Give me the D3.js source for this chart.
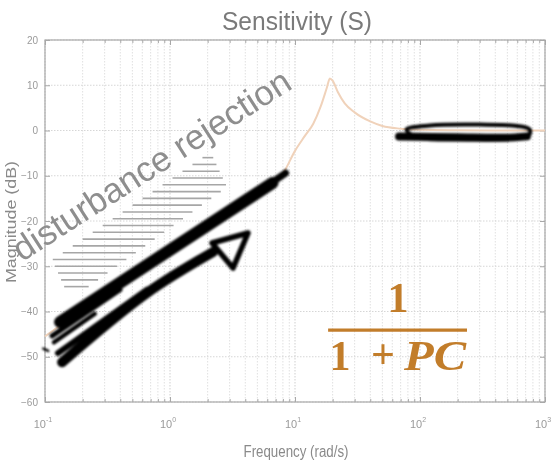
<!DOCTYPE html>
<html>
<head>
<meta charset="utf-8">
<script src="https://cdn.jsdelivr.net/npm/d3@7/dist/d3.min.js"></script>
<style>
  html, body { margin: 0; padding: 0; background: #fff; }
  svg { display: block; }
</style>
</head>
<body>
<svg id="chart" width="555" height="466"></svg>
<script>
// ---------------- data ----------------
const freq = [0.1, 0.2, 0.5, 1, 2, 4, 6, 8, 10, 12, 14, 16, 18, 19, 20, 22, 25, 30, 40, 50, 70, 100, 200, 500, 1000];
const magDb = [-45.5, -39.5, -32, -26, -20.5, -15, -12, -9.5, -4.5, -1.2, 1.5, 5.2, 9.5, 11.5, 11, 8.5, 6, 4, 2, 1, 0.4, 0.15, 0.05, 0, 0];
const xDecades = [0.1, 1, 10, 100, 1000];
const xExponents = ["-1", "0", "1", "2", "3"];
const yTicks = [20, 10, 0, -10, -20, -30, -40, -50, -60];

const titleText = "Sensitivity (S)";
const xLabelText = "Frequency (rad/s)";
const yLabelText = "Magnitude (dB)";
const noteText = "disturbance rejection";

// annotation anchors, in data coordinates [rad/s, dB]
const noteAnchor = [0.0655, -29.1];
const hatchPoly = [[1.84, -5.9], [2.21, -5.9], [2.86, -12.5], [0.19, -35.9], [0.15, -35.9], [0.114, -28.6]];
const hatchLevels = d3.range(-6, -36.1, -1.5);
const markerMain = [[0.132, -42.3], [6.6, -11.6]];
const markerTip = [[4.5, -14.6], [8.4, -9.4]];
const markerProng1 = [[0.114, -45.4], [0.398, -35.2]];
const markerProng2 = [[0.118, -46.8], [0.25, -40.5]];
const markerDot = [[0.097, -48.2], [0.106, -48.7]];
const arrowShaft = [[0.137, -51.2], [0.655, -35.9], [2.21, -26.85]];
const arrowShaft2 = [[0.127, -49.2], [0.655, -35.2]];
const arrowHead = [[2.17, -24.86], [4.21, -22.65], [3.19, -30.4]];
const scribbleLoop = [[90, -1.3], [78, 0.2], [120, 1.1], [300, 1.3], [600, 1.0], [755, 0.2], [740, -1.2], [500, -1.9], [250, -2.0], [110, -1.8]];
const scribbleBar = [[68, -1.3], [200, -1.5], [480, -1.6], [715, -1.3]];
const fracNum = "1";
const fracDen1 = "1";
const fracDenPlus = "+";
const fracDenVar = "PC";
const fracCenter = [66.7, -40.1];
const fracBar = [[18.4, -44.1], [237.7, -44.1]];
const fracDenBase = -52.9;

// ---------------- scales ----------------
const svg = d3.select("#chart");
const x = d3.scaleLog().domain([0.1, 1000]).range([45, 545]);
const y = d3.scaleLinear().domain([-60, 20]).range([402, 40]);
const P = d => [x(d[0]), y(d[1])];

const defs = svg.append("defs");
defs.append("filter").attr("id", "soft").attr("x", "-5%").attr("y", "-5%").attr("width", "110%").attr("height", "110%")
  .append("feGaussianBlur").attr("stdDeviation", 0.55);
defs.append("filter").attr("id", "soft2").attr("x", "-5%").attr("y", "-5%").attr("width", "110%").attr("height", "110%")
  .append("feGaussianBlur").attr("stdDeviation", 0.8);

const g = svg.append("g").attr("filter", "url(#soft)");

// ---------------- grid ----------------
const minorX = x.ticks();
g.append("g").selectAll("line").data(minorX).join("line")
  .attr("x1", d => x(d)).attr("x2", d => x(d))
  .attr("y1", y(20)).attr("y2", y(-60))
  .attr("stroke", d => xDecades.includes(d) ? "#cfcfcf" : "#e0e0e0")
  .attr("stroke-width", 1)
  .attr("stroke-dasharray", "1.5,1.5");
g.append("g").selectAll("line").data(yTicks).join("line")
  .attr("x1", x(0.1)).attr("x2", x(1000))
  .attr("y1", d => y(d)).attr("y2", d => y(d))
  .attr("stroke", "#d6d6d6")
  .attr("stroke-width", 1)
  .attr("stroke-dasharray", "1.5,1.5");

// ---------------- axes ----------------
function styleAxis(sel) {
  sel.select(".domain").remove();
  sel.selectAll(".tick line").attr("stroke", "#a8a8a8");
  sel.selectAll("text").attr("fill", "#9a9a9a").attr("font-family", "Liberation Sans, Arial, sans-serif");
}
g.append("g").attr("transform", `translate(0,${y(-60)})`)
  .call(d3.axisBottom(x).tickValues(minorX).tickSize(-3).tickFormat(""))
  .call(styleAxis);
g.append("g").attr("transform", `translate(0,${y(-60)})`)
  .call(d3.axisBottom(x).tickValues(xDecades).tickSize(-5).tickFormat(""))
  .call(styleAxis);
g.append("g").attr("transform", `translate(0,${y(20)})`)
  .call(d3.axisTop(x).tickValues(minorX).tickSize(-3).tickFormat(""))
  .call(styleAxis);
g.append("g").attr("transform", `translate(0,${y(20)})`)
  .call(d3.axisTop(x).tickValues(xDecades).tickSize(-5).tickFormat(""))
  .call(styleAxis);
g.append("g").attr("transform", `translate(${x(0.1)},0)`)
  .call(d3.axisLeft(y).tickValues(yTicks).tickSize(-5).tickPadding(7).tickFormat(d3.format("d")))
  .call(styleAxis)
  .call(s => s.selectAll("text").attr("font-size", 10));
g.append("g").attr("transform", `translate(${x(1000)},0)`)
  .call(d3.axisRight(y).tickValues(yTicks).tickSize(-5).tickFormat(""))
  .call(styleAxis);

g.append("rect")
  .attr("x", x(0.1)).attr("y", y(20))
  .attr("width", x(1000) - x(0.1)).attr("height", y(-60) - y(20))
  .attr("fill", "none").attr("stroke", "#a8a8a8").attr("stroke-width", 1.2);

// x tick labels 10^n
const xl = g.append("g").selectAll("text").data(xDecades).join("text")
  .attr("x", d => x(d) - 2).attr("y", y(-60) + 26)
  .attr("text-anchor", "middle")
  .attr("font-family", "Liberation Sans, Arial, sans-serif")
  .attr("font-size", 11).attr("fill", "#9a9a9a");
xl.append("tspan").text("10");
xl.append("tspan").attr("dy", -6).attr("font-size", 7).text((d, i) => xExponents[i]);

// ---------------- titles ----------------
g.append("text").attr("x", 297).attr("y", 30)
  .attr("text-anchor", "middle")
  .attr("font-family", "Liberation Sans, Arial, sans-serif")
  .attr("font-size", 25).attr("fill", "#7a7a7a")
  .attr("textLength", 150).attr("lengthAdjust", "spacingAndGlyphs")
  .text(titleText);
g.append("text").attr("x", 296).attr("y", 457)
  .attr("text-anchor", "middle")
  .attr("font-family", "Liberation Sans, Arial, sans-serif")
  .attr("font-size", 16).attr("fill", "#8a8a8a")
  .attr("textLength", 105).attr("lengthAdjust", "spacingAndGlyphs")
  .text(xLabelText);
g.append("text")
  .attr("transform", `translate(16,222) rotate(-90)`)
  .attr("text-anchor", "middle")
  .attr("font-family", "Liberation Sans, Arial, sans-serif")
  .attr("font-size", 15).attr("fill", "#8a8a8a")
  .attr("textLength", 122).attr("lengthAdjust", "spacingAndGlyphs")
  .text(yLabelText);

// ---------------- sensitivity curve ----------------
const line = d3.line().x(d => x(d[0])).y(d => y(d[1])).curve(d3.curveMonotoneX);
g.append("path")
  .datum(freq.map((f, i) => [f, magDb[i]]))
  .attr("d", line)
  .attr("fill", "none")
  .attr("stroke", "#f0d2ba")
  .attr("stroke-width", 2);

// ---------------- hatch lines ----------------
const polyPx = hatchPoly.map(P);
function scan(yy) {
  const xs = [];
  for (let i = 0; i < polyPx.length; i++) {
    const a = polyPx[i], b = polyPx[(i + 1) % polyPx.length];
    if ((yy - a[1]) * (yy - b[1]) <= 0 && a[1] !== b[1]) {
      xs.push(a[0] + (yy - a[1]) / (b[1] - a[1]) * (b[0] - a[0]));
    }
  }
  return xs.length ? [d3.min(xs), d3.max(xs)] : null;
}
g.append("g").selectAll("line")
  .data(hatchLevels.map(v => ({ v, s: scan(y(v)) })).filter(d => d.s))
  .join("line")
  .attr("x1", d => d.s[0]).attr("x2", d => d.s[1])
  .attr("y1", d => y(d.v)).attr("y2", d => y(d.v))
  .attr("stroke", "#a6a6a6").attr("stroke-width", 1.6);

// ---------------- note text ----------------
const na = P(noteAnchor);
g.append("text")
  .attr("transform", `translate(${na[0]},${na[1]}) rotate(-32.7)`)
  .attr("font-family", "Liberation Sans, Arial, sans-serif")
  .attr("font-size", 35).attr("fill", "#8e8e8e")
  .text(noteText);

// ---------------- fraction ----------------
const fc = P(fracCenter);
const fracFont = "Liberation Serif, 'DejaVu Serif', serif";
const fcol = "#c27d2c";
g.append("text").attr("x", fc[0]).attr("y", fc[1])
  .attr("text-anchor", "middle").attr("font-family", fracFont)
  .attr("font-weight", "bold").attr("font-size", 42).attr("fill", fcol)
  .text(fracNum);
g.append("line")
  .attr("x1", x(fracBar[0][0])).attr("x2", x(fracBar[1][0]))
  .attr("y1", y(fracBar[0][1])).attr("y2", y(fracBar[1][1]))
  .attr("stroke", fcol).attr("stroke-width", 3.2);
const dy = y(fracDenBase);
g.append("text").attr("x", fc[0] - 58).attr("y", dy)
  .attr("text-anchor", "middle").attr("font-family", fracFont)
  .attr("font-weight", "bold").attr("font-size", 42).attr("fill", fcol)
  .text(fracDen1);
g.append("text").attr("x", fc[0] - 15).attr("y", dy - 2)
  .attr("text-anchor", "middle").attr("font-family", fracFont)
  .attr("font-weight", "bold").attr("font-size", 42).attr("fill", fcol)
  .text(fracDenPlus);
g.append("text").attr("x", fc[0] + 6).attr("y", dy)
  .attr("text-anchor", "start").attr("font-family", fracFont)
  .attr("font-weight", "bold").attr("font-style", "italic").attr("font-size", 42).attr("fill", fcol)
  .attr("textLength", 62).attr("lengthAdjust", "spacingAndGlyphs")
  .text(fracDenVar);

// ---------------- marker annotations ----------------
const m = svg.append("g").attr("filter", "url(#soft2)")
  .attr("fill", "none").attr("stroke", "#000").attr("stroke-linecap", "round").attr("stroke-linejoin", "round");
const lin = d3.line().x(d => x(d[0])).y(d => y(d[1]));
const smooth = d3.line().x(d => x(d[0])).y(d => y(d[1])).curve(d3.curveCatmullRom);
m.append("path").attr("d", lin(markerMain)).attr("stroke-width", 12);
m.append("path").attr("d", lin(markerTip)).attr("stroke-width", 7);
m.append("path").attr("d", lin(markerProng1)).attr("stroke-width", 5);
m.append("path").attr("d", lin(markerProng2)).attr("stroke-width", 4.5);
m.append("path").attr("d", lin(markerDot)).attr("stroke-width", 2.5);
m.append("path").attr("d", smooth(arrowShaft)).attr("stroke-width", 10);
m.append("path").attr("d", lin(arrowShaft2)).attr("stroke-width", 6);
m.append("path").attr("d", lin(arrowHead) + "Z").attr("stroke-width", 5.5);
m.append("path").attr("d", smooth(scribbleLoop.concat([scribbleLoop[0]]))).attr("stroke-width", 4);
m.append("path").attr("d", smooth(scribbleBar)).attr("stroke-width", 8);
</script>
</body>
</html>
